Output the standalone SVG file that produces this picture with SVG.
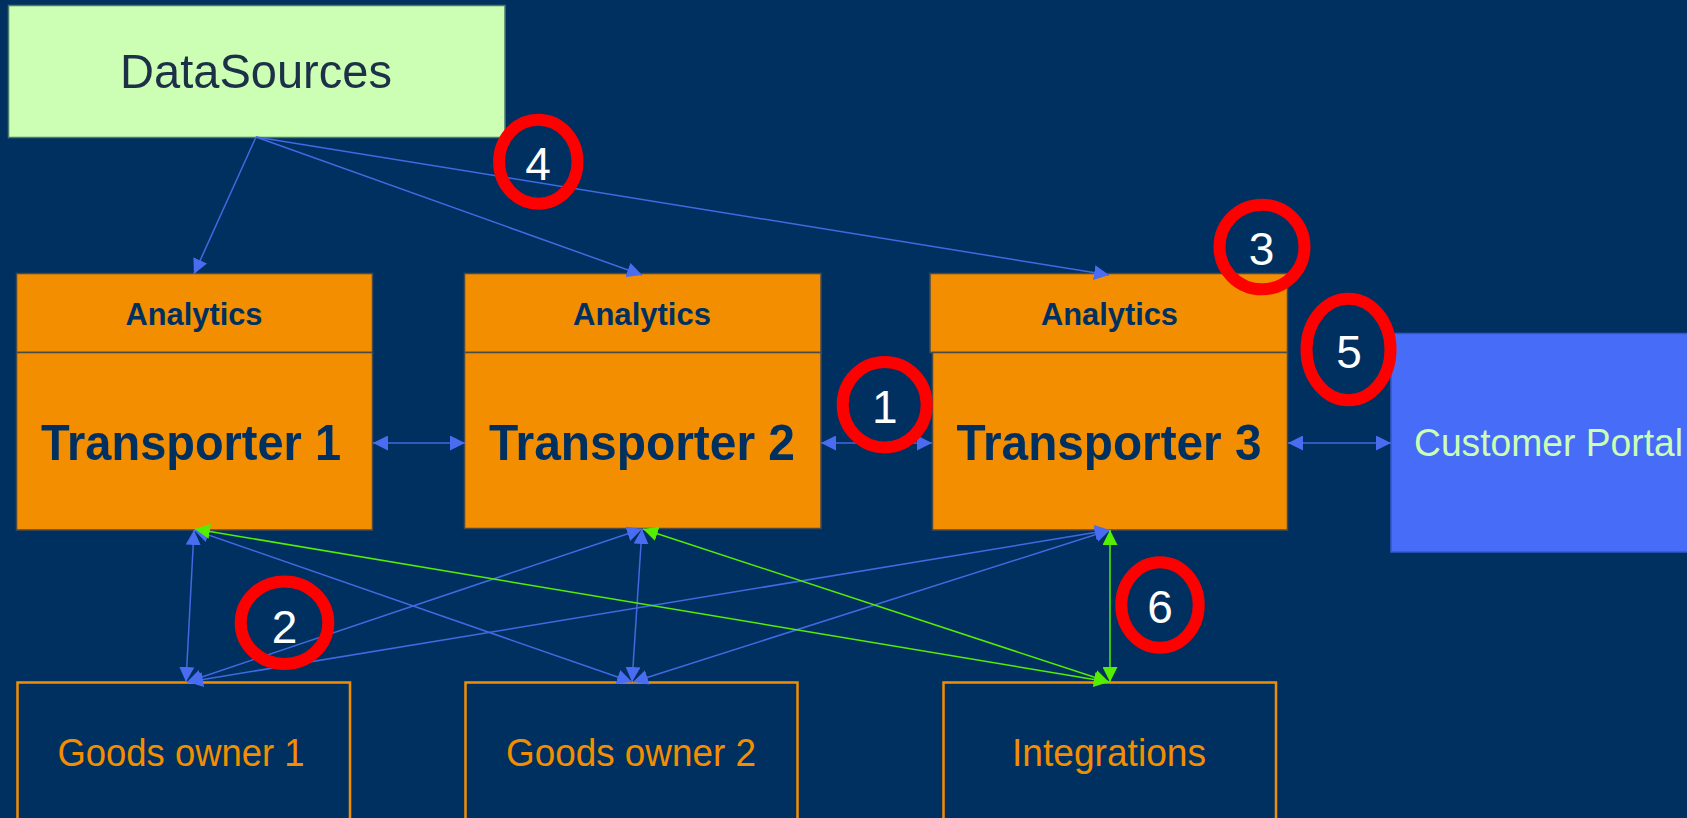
<svg xmlns="http://www.w3.org/2000/svg" width="1687" height="818" viewBox="0 0 1687 818">
<style>
  .ds { fill:#CCFFB3; stroke:#4A7A6A; stroke-width:1.5; }
  .tr { fill:#F28E00; stroke:#4A4A4A; stroke-width:1.5; }
  .go { fill:none; stroke:#F28E00; stroke-width:2.5; }
  .cp { fill:#476CF8; stroke:#3558C8; stroke-width:1.5; }
  .t { font-family:"Liberation Sans", Arial, sans-serif; }
  .ana { font-size:32px; font-weight:bold; fill:#003060; text-anchor:middle; }
  .tpt { font-size:50px; font-weight:bold; fill:#003060; text-anchor:middle; }
  .gol { font-size:39px; fill:#F28E00; text-anchor:middle; }
  .num { font-size:46px; fill:#FFFFFF; text-anchor:middle; }
  .ring { fill:none; stroke:#FF0000; stroke-width:12; }
  .cb { stroke:#4169E1; stroke-width:1.5; fill:none; }
  .cg { stroke:#55EE00; stroke-width:1.5; fill:none; }
</style>
<defs>
  <marker id="ab" markerUnits="userSpaceOnUse" markerWidth="15" markerHeight="15" refX="15" refY="7.5" orient="auto-start-reverse">
    <path d="M0,0 L15,7.5 L0,15 z" fill="#4A6CF0"/>
  </marker>
  <marker id="ag" markerUnits="userSpaceOnUse" markerWidth="15" markerHeight="15" refX="15" refY="7.5" orient="auto-start-reverse">
    <path d="M0,0 L15,7.5 L0,15 z" fill="#55EE00"/>
  </marker>
</defs>
<rect x="0" y="0" width="1687" height="818" fill="#003060"/>

<g id="datasources">
  <rect class="ds" x="8.5" y="5.5" width="496.5" height="132"/>
  <text class="t" x="256" y="88" font-size="49" fill="#1C3048" text-anchor="middle" textLength="272" lengthAdjust="spacingAndGlyphs">DataSources</text>
</g>

<g id="transporter1">
  <rect class="tr" x="16.5" y="273.5" width="356" height="79"/>
  <rect class="tr" x="16.5" y="352.5" width="356" height="177.5"/>
  <text class="t ana" x="194" y="325" textLength="137" lengthAdjust="spacingAndGlyphs">Analytics</text>
  <text class="t tpt" x="191" y="460" textLength="300" lengthAdjust="spacingAndGlyphs">Transporter 1</text>
</g>

<g id="transporter2">
  <rect class="tr" x="464.5" y="273.5" width="356.5" height="79"/>
  <rect class="tr" x="464.5" y="352.5" width="356.5" height="176"/>
  <text class="t ana" x="642" y="325" textLength="138" lengthAdjust="spacingAndGlyphs">Analytics</text>
  <text class="t tpt" x="642" y="460" textLength="306" lengthAdjust="spacingAndGlyphs">Transporter 2</text>
</g>

<g id="transporter3">
  <rect class="tr" x="930" y="273.5" width="357.5" height="79"/>
  <rect class="tr" x="932.5" y="352.5" width="355" height="177.5"/>
  <text class="t ana" x="1109.5" y="325" textLength="137" lengthAdjust="spacingAndGlyphs">Analytics</text>
  <text class="t tpt" x="1109" y="460" textLength="305" lengthAdjust="spacingAndGlyphs">Transporter 3</text>
</g>

<g id="customerportal">
  <rect class="cp" x="1391" y="333.5" width="310" height="218.5"/>
  <text class="t" x="1414" y="456" font-size="38" fill="#CCFFB3" textLength="269" lengthAdjust="spacingAndGlyphs">Customer Portal</text>
</g>

<g id="goodsowner1">
  <rect class="go" x="17.5" y="682.5" width="332.5" height="150"/>
  <text class="t gol" x="181" y="766" textLength="247" lengthAdjust="spacingAndGlyphs">Goods owner 1</text>
</g>

<g id="goodsowner2">
  <rect class="go" x="465.5" y="682.5" width="332" height="150"/>
  <text class="t gol" x="631" y="766" textLength="250" lengthAdjust="spacingAndGlyphs">Goods owner 2</text>
</g>

<g id="integrations">
  <rect class="go" x="943.5" y="682.5" width="332.5" height="150"/>
  <text class="t gol" x="1109" y="766" textLength="194" lengthAdjust="spacingAndGlyphs">Integrations</text>
</g>

<g id="connectors">
  <line class="cb" x1="256" y1="137" x2="194" y2="274" marker-end="url(#ab)"/>
  <line class="cb" x1="256" y1="137" x2="642" y2="275" marker-end="url(#ab)"/>
  <line class="cb" x1="256" y1="137" x2="1109" y2="275" marker-end="url(#ab)"/>

  <line class="cb" x1="373" y1="443" x2="465" y2="443" marker-start="url(#ab)" marker-end="url(#ab)"/>
  <line class="cb" x1="821" y1="443" x2="932" y2="443" marker-start="url(#ab)" marker-end="url(#ab)"/>
  <line class="cb" x1="1288" y1="443" x2="1391" y2="443" marker-start="url(#ab)" marker-end="url(#ab)"/>

  <line class="cb" x1="194" y1="530" x2="186" y2="682" marker-start="url(#ab)" marker-end="url(#ab)"/>
  <line class="cb" x1="194" y1="530" x2="632" y2="682" marker-start="url(#ab)" marker-end="url(#ab)"/>
  <line class="cb" x1="642" y1="529" x2="187" y2="682" marker-start="url(#ab)" marker-end="url(#ab)"/>
  <line class="cb" x1="642" y1="529" x2="632" y2="682" marker-start="url(#ab)" marker-end="url(#ab)"/>
  <line class="cb" x1="1110" y1="530" x2="188" y2="682" marker-start="url(#ab)" marker-end="url(#ab)"/>
  <line class="cb" x1="1110" y1="530" x2="633" y2="682" marker-start="url(#ab)" marker-end="url(#ab)"/>

  <line class="cg" x1="195" y1="529" x2="1109" y2="682" marker-start="url(#ag)" marker-end="url(#ag)"/>
  <line class="cg" x1="643" y1="529" x2="1109" y2="682" marker-start="url(#ag)" marker-end="url(#ag)"/>
  <line class="cg" x1="1110" y1="530" x2="1110" y2="682" marker-start="url(#ag)" marker-end="url(#ag)"/>
</g>

<g id="marker1">
  <ellipse class="ring" cx="884.7" cy="404.7" rx="42" ry="42.7"/>
  <text class="t num" x="884.7" y="422.7">1</text>
</g>
<g id="marker2">
  <ellipse class="ring" cx="284.5" cy="622.7" rx="43.8" ry="41.3"/>
  <text class="t num" x="284.5" y="643">2</text>
</g>
<g id="marker3">
  <ellipse class="ring" cx="1262" cy="247" rx="42.5" ry="42.3"/>
  <text class="t num" x="1261.6" y="265">3</text>
</g>
<g id="marker4">
  <ellipse class="ring" cx="538.3" cy="161.7" rx="39.2" ry="42"/>
  <text class="t num" x="538" y="180">4</text>
</g>
<g id="marker5">
  <ellipse class="ring" cx="1348.5" cy="349.5" rx="42" ry="50.7"/>
  <text class="t num" x="1349" y="367.7">5</text>
</g>
<g id="marker6">
  <ellipse class="ring" cx="1160" cy="605" rx="38.7" ry="42.7"/>
  <text class="t num" x="1160" y="623">6</text>
</g>
</svg>
